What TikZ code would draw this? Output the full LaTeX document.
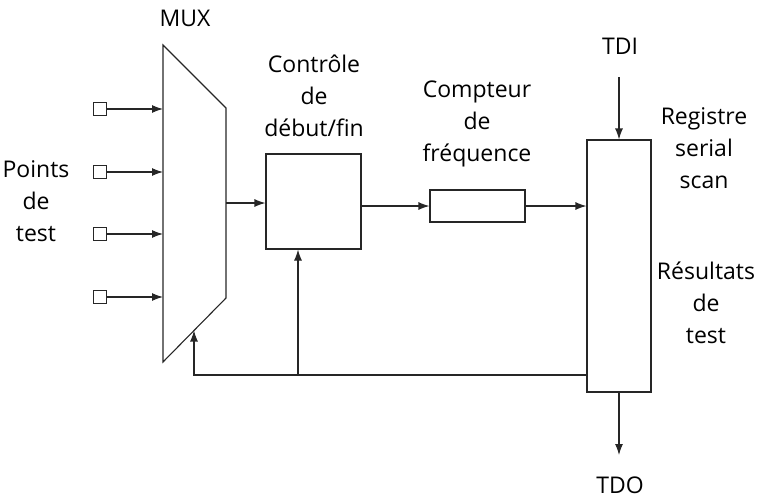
\documentclass[tikz,border=0pt]{standalone}
\usepackage{fontspec}
\setmainfont{Open Sans}
\usetikzlibrary{arrows.meta}
\begin{document}
\begin{tikzpicture}[x=1pt,y=-1pt,
  wire/.style={draw=black!85, line width=1.1pt},
  arr/.style={wire, -{Latex[length=11pt,width=8pt]}},
  box/.style={draw=black!85, line width=1.1pt, rectangle, inner sep=0pt, fill=white},
  pin/.style={box, minimum width=13pt, minimum height=13pt},
  lbl/.style={align=center, font=\fontsize{23}{32}\selectfont, inner sep=0pt}]
\useasboundingbox (0,0) rectangle (763,501);
% MUX
\coordinate (m1) at (163,45);
\coordinate (m2) at (226,108);
\coordinate (m3) at (226,298);
\coordinate (m4) at (163,362);
\draw[wire] (m1) -- (m2) -- (m3) -- (m4) -- cycle;
\coordinate (muxout) at (226,203);
% inputs
\foreach \i/\y in {1/109,2/172,3/234,4/297}{
  \node[pin] (sq\i) at (100,\y) {};
  \coordinate (in\i) at (163,\y);
  \draw[arr] (sq\i.east) -- (in\i);
}
% blocks
\node[box, minimum width=95pt, minimum height=95pt] (ctrl) at (313.5,201.5) {};
\node[box, minimum width=95pt, minimum height=32pt] (cnt) at (477.5,206) {};
\node[box, minimum width=64pt, minimum height=252pt] (reg) at (619,266) {};
% connections
\draw[arr] (muxout) -- (muxout -| ctrl.west);
\draw[arr] (ctrl.east |- cnt.west) -- (cnt.west);
\draw[arr] (cnt.east) -- (cnt.east -| reg.west);
\coordinate (tdi) at (619,77);
\coordinate (tdo) at (619,455);
\draw[arr] (tdi) -- (reg.north);
\draw[arr] (reg.south) -- (tdo);
% feedback
\coordinate (fb) at (587,375);
\coordinate (fbl) at (194,375);
\coordinate (fbm) at (194,330.5);
\coordinate (fbj) at (298,375);
\draw[arr] (fb) -- (fbl) -- (fbm);
\draw[arr] (fbj) -- (fbj |- ctrl.south);
% labels
\node[lbl] (lmux) at (185,18) {MUX};
\node[lbl] (lpts) at (36,201) {Points\\de\\test};
\node[lbl] (lctrl) at (314,96) {Contrôle\\de\\début/fin};
\node[lbl] (lcnt) at (477,124) {Compteur\\de\\fréquence};
\node[lbl] (ltdi) at (620,46) {TDI};
\node[lbl] (lreg) at (704,148) {Registre\\serial\\scan};
\node[lbl] (lres) at (706,303) {Résultats\\de\\test};
\node[lbl] (ltdo) at (620,485) {TDO};
\end{tikzpicture}
\end{document}
